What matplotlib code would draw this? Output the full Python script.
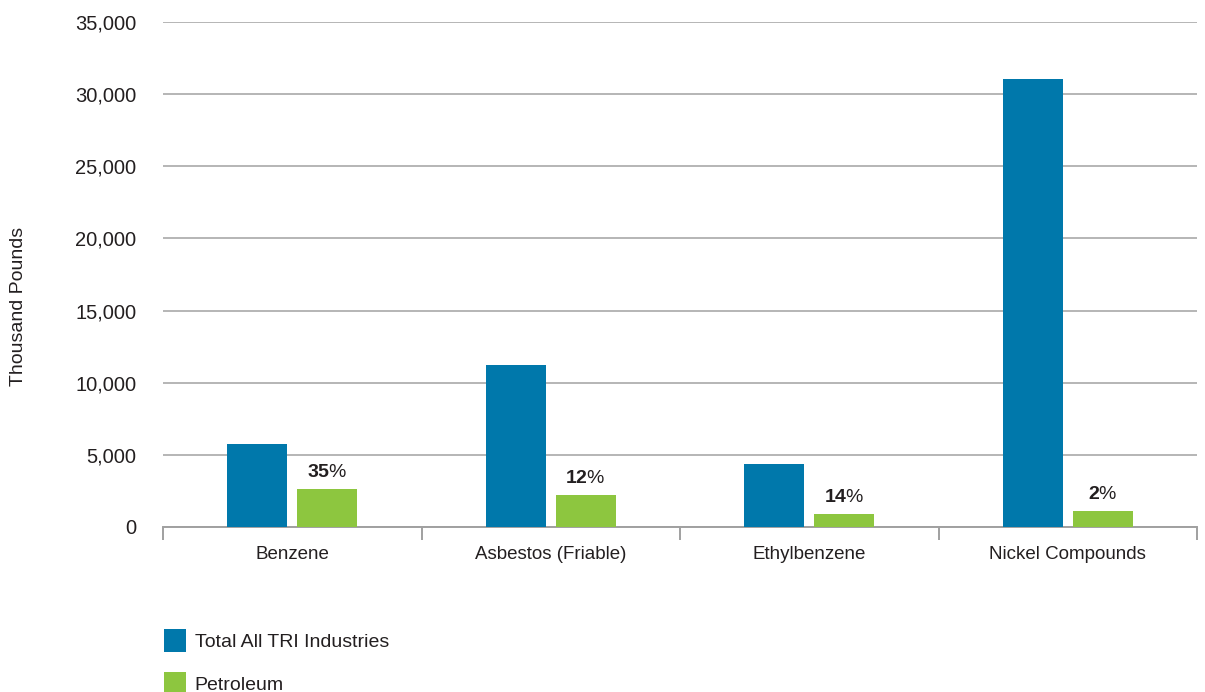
import matplotlib

matplotlib.use("Agg")
import matplotlib.pyplot as plt
import numpy as np
from matplotlib.patches import Patch

# Releases by chemical, thousand pounds
chemicals = ["Benzene", "Asbestos (Friable)", "Ethylbenzene", "Nickel Compounds"]
total_all = [5750, 11220, 4370, 31030]
petroleum = [2630, 2220, 900, 1110]
petroleum_share = ["35", "12", "14", "2"]

y_ticks = [0, 5000, 10000, 15000, 20000, 25000, 30000, 35000]

BLUE = "#0078AB"
GREEN = "#8DC63F"
TEXT = "#231F20"
GRID = "#B5B5B5"

plt.rcParams.update(
    {
        "font.family": ["Liberation Sans", "DejaVu Sans"],
        "mathtext.fontset": "custom",
        "mathtext.rm": "Liberation Sans",
        "mathtext.bf": "Liberation Sans:bold",
        "text.color": TEXT,
        "axes.labelcolor": TEXT,
        "xtick.color": TEXT,
        "ytick.color": TEXT,
    }
)

fig = plt.figure(figsize=(12.05, 6.92), dpi=100)
ax = fig.add_axes([163 / 1205, 1 - 527 / 692, 1034 / 1205, 505 / 692])

x = np.arange(len(chemicals))
width = 0.232
offset = 0.135
ax.bar(x - offset, total_all, width, color=BLUE, zorder=3, label="Total All TRI Industries")
ax.bar(x + offset, petroleum, width, color=GREEN, zorder=3, label="Petroleum")

for xi, val, share in zip(x, petroleum, petroleum_share):
    ax.annotate(
        rf"$\mathbf{{{share}}}$%",
        xy=(xi + offset, val),
        xytext=(0, 6),
        textcoords="offset points",
        ha="center",
        va="bottom",
        fontsize=14,
        color=TEXT,
    )

ax.set_xlim(-0.5, len(chemicals) - 0.5)
ax.set_ylim(0, 35000)
ax.set_yticks(y_ticks)
ax.set_yticklabels([f"{v:,}" for v in y_ticks])
ax.yaxis.grid(True, color=GRID, linewidth=1.4, zorder=0)
ax.set_axisbelow(True)

ax.set_xticks(x)
ax.set_xticklabels(chemicals)
ax.set_xticks(np.arange(len(chemicals) + 1) - 0.5, minor=True)
ax.tick_params(axis="x", which="major", length=0, pad=14, labelsize=13.5)
ax.tick_params(axis="x", which="minor", length=9.5, width=1.4, color="#A0A0A0")
ax.tick_params(axis="y", length=0, pad=19, labelsize=14.5)

for side in ("top", "right", "left"):
    ax.spines[side].set_visible(False)
ax.spines["bottom"].set_color("#A0A0A0")
ax.spines["bottom"].set_linewidth(1.4)

ax.set_ylabel("Thousand Pounds", fontsize=14)
ax.yaxis.set_label_coords(-0.1315, 0.4376)

handles = [
    Patch(facecolor=BLUE, edgecolor="none", label="Total All TRI Industries"),
    Patch(facecolor=GREEN, edgecolor="none", label="Petroleum"),
]
fig.legend(
    handles=handles,
    loc="upper left",
    bbox_to_anchor=(146 / 1205, 1 - 612 / 692),
    frameon=False,
    fontsize=14,
    handlelength=1.15,
    handleheight=1.4,
    handletextpad=0.45,
    labelspacing=1.05,
)

fig.savefig("out.png", dpi=100)
